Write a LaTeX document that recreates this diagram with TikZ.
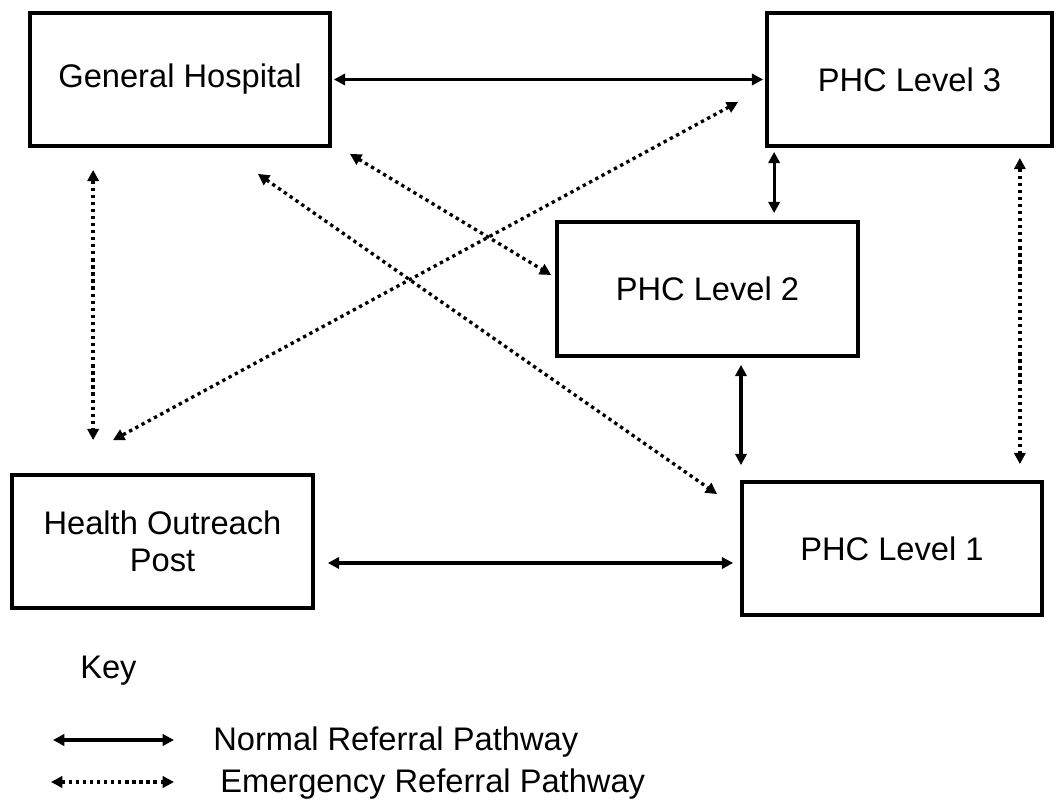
\documentclass[tikz,border=0pt]{standalone}
\usepackage{fontspec}
\setmainfont{Liberation Sans}
\usetikzlibrary{arrows.meta,calc}

\begin{document}
\begin{tikzpicture}[x=0.75pt,y=-0.75pt,
  every node/.style={font=\fontsize{24.5}{27.75}\selectfont},
  unit/.style={draw, line width=2.8pt, inner sep=0pt, align=center},
  >={Triangle[length=8.5pt,width=8.5pt]},
  normal/.style={line width=2.4pt, <->},
  emerg/.style={line width=2.5pt, dash pattern=on 2.5pt off 2.8pt, <->},
  label/.style={anchor=base west, inner sep=0pt}
]
\useasboundingbox (0,0) rectangle (1060,803);

% facilities
\node[unit, minimum width=225pt, minimum height=99.75pt] (gh)   at (180,79.5)   {General Hospital};
\node[unit, minimum width=213.75pt, minimum height=99.75pt] (phc3) at (909.5,79.5) {PHC Level 3};
\node[unit, minimum width=225.75pt, minimum height=100.5pt] (phc2) at (707.5,289)  {PHC Level 2};
\node[unit, minimum width=225pt, minimum height=99.75pt] (phc1) at (892,548.5)  {PHC Level 1};
\node[unit, minimum width=225.75pt, minimum height=99.75pt] (hop)  at (162.5,541.5) {Health Outreach\\Post};

% normal referral pathways
\draw[normal, shorten <=1.5pt, shorten >=1.5pt] (gh.east) -- (phc3.west);
\draw[normal] ($(phc3.south west)+(9,4)$) -- ($(phc3.south west |- phc2.north)+(9,-7)$);
\draw[normal] ($(phc2.south)+(33.5,7)$) -- ($(phc2.south |- phc1.north)+(33.5,-15)$);
\draw[normal] ($(hop.east)+(13,21.5)$) -- ($(phc1.west)+(-7,14.5)$);

% emergency referral pathways
\draw[emerg] ($(gh.south west)+(65,22)$) -- ($(gh.south west |- hop.north)+(65,-33)$);
\draw[emerg] ($(gh.south east)+(18,6)$) -- ($(phc2.west)+(-4,-14)$);
\draw[emerg] ($(gh.south east)+(-74,26)$) -- ($(phc1.north west)+(-23,14)$);
\draw[emerg] ($(phc3.west)+(-27,22.5)$) -- ($(hop.north)+(-49.5,-33)$);
\draw[emerg] ($(phc3.south east)+(-34,10)$) -- ($(phc3.south east |- phc1.north)+(-34,-16)$);

% key
\node[label] (keytitle) at (80,678) {Key};
\coordinate (kn1) at (53,740);
\coordinate (kn2) at (174,740);
\coordinate (ke1) at (51,782);
\coordinate (ke2) at (174,782);
\draw[normal] (kn1) -- (kn2);
\draw[emerg] (ke1) -- (ke2);
\node[label] (knlabel) at (213,750) {Normal Referral Pathway};
\node[label] (kelabel) at (220,792) {Emergency Referral Pathway};
\end{tikzpicture}
\end{document}
